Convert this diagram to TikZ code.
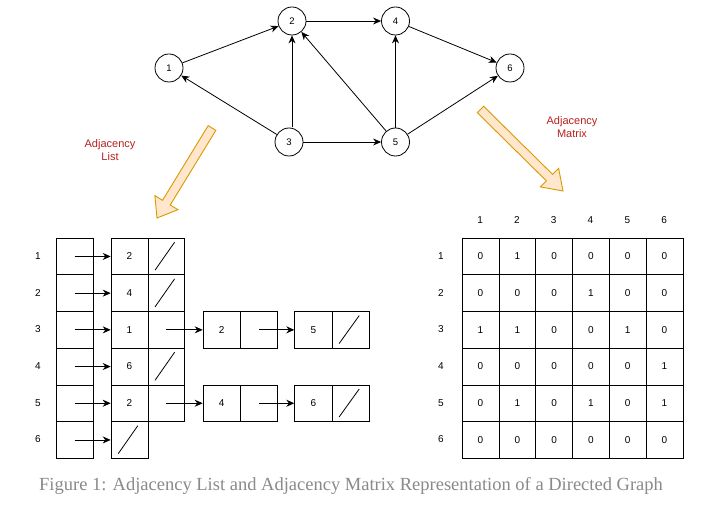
\documentclass[tikz,border=0pt]{standalone}
\usepackage{fontspec}
\setmainfont{Liberation Sans}
\newfontfamily\capfont{Liberation Serif}
\usetikzlibrary{arrows.meta,calc}
\definecolor{peach}{HTML}{FFE6CC}
\definecolor{gold}{HTML}{D79B00}
\definecolor{labelred}{HTML}{B82020}
\definecolor{capgray}{HTML}{8A8A8A}
\begin{document}
\begin{tikzpicture}[x=1pt,y=-1pt,
  vtx/.style={circle,draw,line width=0.8pt,minimum size=28pt,inner sep=0pt,font=\fontsize{9.5}{11}\selectfont},
  edge/.style={line width=0.8pt,-{Stealth[length=8pt,width=7pt]}},
  cell/.style={draw,line width=0.8pt,minimum width=36.8pt,minimum height=36.7pt,inner sep=0pt,anchor=north west,font=\fontsize{10}{12}\selectfont},
  lbl/.style={font=\fontsize{10}{12}\selectfont},
  ptr/.style={line width=0.8pt,-{Stealth[length=8pt,width=7pt]}},
  bigarrow/.style={fill=peach,draw=gold,line width=0.9pt,line join=miter},
  redlbl/.style={text=labelred,align=center,font=\fontsize{11}{12.5}\selectfont},
  nullslash/.style={line width=0.8pt}
]
\useasboundingbox[fill=white] (0,0) rectangle (711,510);

% graph
\node[vtx] (v1) at (169,68) {1};
\node[vtx] (v2) at (292,21) {2};
\node[vtx] (v4) at (395.5,21) {4};
\node[vtx] (v6) at (510,68) {6};
\node[vtx] (v3) at (289,142) {3};
\node[vtx] (v5) at (395.5,142) {5};
\draw[edge] (v1) -- (v2);
\draw[edge] (v3) -- (v1);
\draw[edge] ([yshift=0.3pt]v2.south |- v3.north) -- (v2.south);
\draw[edge] (v3) -- (v5);
\draw[edge] (v5) -- (v2);
\draw[edge] (v5) -- (v4);
\draw[edge] (v2) -- (v4);
\draw[edge] (v4) -- (v6);
\draw[edge] (v5) -- (v6);

% big arrows
\coordinate (S1) at (212,128); \coordinate (T1) at (157,218);
\coordinate (H1) at ($(T1)!18pt!(S1)$);
\draw[bigarrow] ($(S1)!4.5pt!90:(T1)$) -- ($(H1)!4.5pt!90:(T1)$) -- ($(H1)!13.5pt!90:(T1)$) -- (T1) -- ($(H1)!13.5pt!-90:(T1)$) -- ($(H1)!4.5pt!-90:(T1)$) -- ($(S1)!4.5pt!-90:(T1)$) -- cycle;
\coordinate (S2) at (480.5,109.5); \coordinate (T2) at (563,191);
\coordinate (H2) at ($(T2)!19pt!(S2)$);
\draw[bigarrow] ($(S2)!4.5pt!90:(T2)$) -- ($(H2)!4.5pt!90:(T2)$) -- ($(H2)!13pt!90:(T2)$) -- (T2) -- ($(H2)!13pt!-90:(T2)$) -- ($(H2)!4.5pt!-90:(T2)$) -- ($(S2)!4.5pt!-90:(T2)$) -- cycle;

\node[redlbl] (tl) at (110,150) {Adjacency\\List};
\node[redlbl] (tm) at (572,127) {Adjacency\\Matrix};

% adjacency list
\foreach \r in {1,...,6} {
  \node[lbl] (rl\r) at (38,{237.7+(\r-0.5)*36.7}) {\r};
  \node[cell] (a\r) at (55.7,{237.7+(\r-1)*36.7}) {};
}
\foreach \r/\v in {1/2,2/4,3/1,4/6,5/2} {
  \node[cell] (b\r) at (110.7,{237.7+(\r-1)*36.7}) {\v};
  \node[cell] (c\r) at (147.5,{237.7+(\r-1)*36.7}) {};
}
\node[cell] (b6) at (110.7,{237.7+5*36.7}) {};
\foreach \r in {1,...,6} { \draw[ptr] (a\r.center) -- (b\r.west); }

\foreach \r/\p/\q in {3/2/5,5/4/6} {
  \node[cell,minimum width=37.3pt] (d\r) at (202.7,{237.7+(\r-1)*36.7}) {\p};
  \node[cell,minimum width=37.3pt] (e\r) at (240,{237.7+(\r-1)*36.7}) {};
  \node[cell,minimum width=37.3pt] (f\r) at (294.3,{237.7+(\r-1)*36.7}) {\q};
  \node[cell,minimum width=37.3pt] (g\r) at (331.6,{237.7+(\r-1)*36.7}) {};
  \draw[ptr] (c\r.center) -- (d\r.west);
  \draw[ptr] (e\r.center) -- (f\r.west);
}
\foreach \n in {c1,c2,c4,b6,g3,g5} {
  \draw[nullslash] ([shift={(7.5,-5)}]\n.south west) -- ([shift={(-10.5,4.5)}]\n.north east);
}

% adjacency matrix
\foreach \c in {1,...,6} {
  \node[lbl] (ch\c) at ({461.7+(\c-0.5)*36.8},220) {\c};
  \node[lbl] (mr\c) at (441,{237.7+(\c-0.5)*36.7}) {\c};
}
\foreach \row [count=\r] in {{0,1,0,0,0,0},{0,0,0,1,0,0},{1,1,0,0,1,0},{0,0,0,0,0,1},{0,1,0,1,0,1},{0,0,0,0,0,0}} {
  \foreach \v [count=\c] in \row {
    \node[cell] (m\r\c) at ({461.7+(\c-1)*36.8},{237.7+(\r-1)*36.7}) {\v};
  }
}

\node[text=capgray,font=\capfont\fontsize{18.5}{22}\selectfont] (cap) at (351,486) {Figure 1: Adjacency List and Adjacency Matrix Representation of a Directed Graph};
\end{tikzpicture}
\end{document}
